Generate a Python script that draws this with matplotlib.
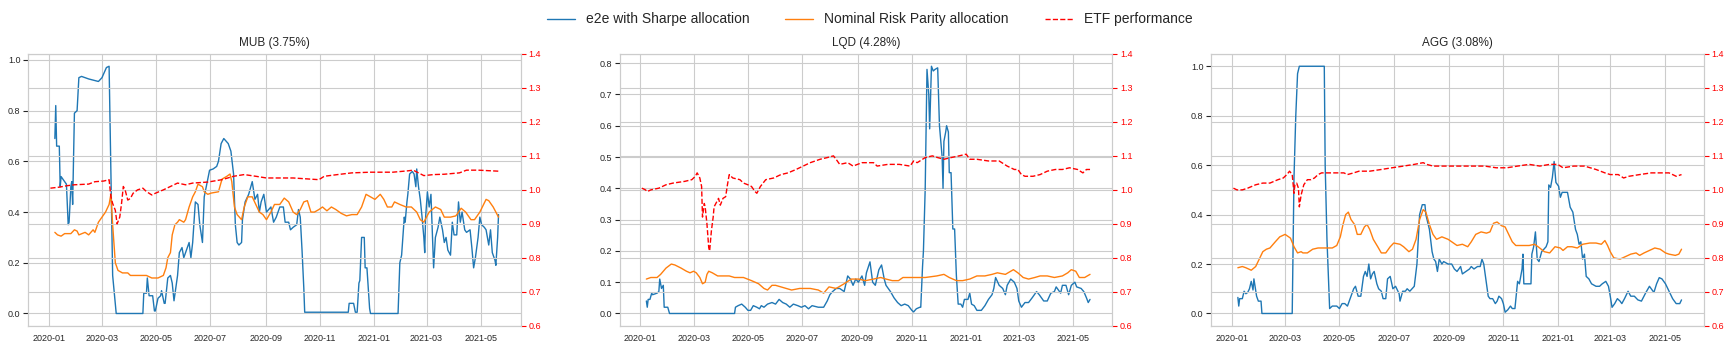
import matplotlib
matplotlib.use('Agg')
import matplotlib.pyplot as plt
import matplotlib.dates as mdates
import seaborn as sns
import pandas as pd

# (days since 2020-01-01, value)
titles = ['MUB (3.75%)', 'LQD (4.28%)', 'AGG (3.08%)']
legend_labels = ['e2e with Sharpe allocation', 'Nominal Risk Parity allocation', 'ETF performance']

mub_e2e = [(7,0.69),(8,0.82),(9,0.66),(12,0.66),(13,0.50),(14,0.54),(18,0.52),(20,0.51),(22,0.35),(23,0.36),
           (25,0.50),(26,0.52),(27,0.43),(29,0.79),(32,0.80),(34,0.93),(37,0.935),(45,0.925),(56,0.915),(60,0.93),
           (65,0.97),(68,0.975),(70,0.55),(72,0.15),(76,0.0),(106,0.0),(107,0.08),(110,0.08),(111,0.14),(113,0.07),
           (117,0.07),(119,0.01),(120,0.01),(123,0.06),(126,0.07),(127,0.09),(130,0.04),(131,0.04),(134,0.14),(137,0.15),
           (139,0.12),(141,0.05),(145,0.15),(147,0.24),(150,0.26),(152,0.22),(154,0.24),(156,0.26),(158,0.28),(160,0.22),
           (162,0.28),(165,0.44),(168,0.43),(170,0.35),(173,0.28),(175,0.46),(179,0.53),(181,0.565),(185,0.57),(189,0.58),
           (191,0.60),(194,0.67),(197,0.69),(202,0.67),(205,0.64),(208,0.55),(210,0.35),(212,0.28),(214,0.27),(217,0.28),
           (218,0.37),(221,0.44),(225,0.47),(229,0.52),(232,0.45),(235,0.47),(237,0.40),(239,0.44),(242,0.47),(245,0.40),
           (250,0.42),(253,0.36),(256,0.38),(260,0.42),(264,0.42),(266,0.36),(270,0.36),(272,0.33),(275,0.34),(279,0.35),
           (281,0.41),(283,0.38),(285,0.25),(287,0.10),(288,0.005),(337,0.005),(338,0.04),(343,0.04),(345,0.005),(347,0.005),
           (349,0.12),(350,0.13),(352,0.30),(355,0.30),(356,0.18),(358,0.18),(361,0.02),(362,0.0),(393,0.0),(395,0.20),
           (397,0.23),(399,0.33),(400,0.38),(401,0.36),(403,0.44),(404,0.47),(406,0.55),(409,0.56),(411,0.55),(413,0.50),
           (414,0.57),(416,0.50),(418,0.45),(420,0.38),(422,0.30),(423,0.24),(424,0.38),(426,0.48),(428,0.42),(430,0.47),
           (433,0.18),(435,0.30),(438,0.34),(440,0.38),(443,0.33),(445,0.28),(447,0.30),(449,0.25),(452,0.23),(454,0.36),
           (456,0.31),(459,0.31),(461,0.44),(463,0.36),(465,0.40),(468,0.33),(470,0.32),(474,0.33),(476,0.26),(478,0.18),
           (480,0.22),(483,0.30),(485,0.38),(487,0.35),(490,0.34),(492,0.33),(495,0.27),(497,0.33),(499,0.24),(502,0.21),
           (503,0.19),(505,0.30),(506,0.39)]
mub_rp = [(7,0.32),(10,0.31),(14,0.305),(18,0.315),(25,0.315),(29,0.33),(32,0.325),(34,0.31),(41,0.32),(45,0.31),
          (50,0.33),(52,0.32),(56,0.36),(60,0.38),(64,0.40),(68,0.43),(70,0.47),(72,0.35),(75,0.20),(78,0.17),
          (83,0.16),(89,0.16),(92,0.15),(104,0.15),(110,0.15),(116,0.14),(123,0.14),(129,0.15),(132,0.18),(134,0.22),
          (137,0.24),(139,0.31),(142,0.35),(145,0.36),(147,0.37),(152,0.36),(154,0.37),(158,0.42),(162,0.46),(165,0.48),
          (168,0.51),(173,0.50),(175,0.48),(179,0.47),(183,0.475),(191,0.48),(195,0.53),(200,0.54),(204,0.55),(206,0.52),
          (209,0.42),(212,0.39),(217,0.37),(220,0.42),(224,0.46),(229,0.46),(233,0.43),(237,0.40),(241,0.39),(245,0.37),
          (250,0.40),(254,0.43),(260,0.43),(265,0.455),(270,0.44),(275,0.40),(279,0.39),(283,0.41),(287,0.44),(291,0.445),
          (295,0.40),(299,0.40),(304,0.41),(308,0.42),(313,0.405),(318,0.42),(323,0.41),(329,0.395),(335,0.385),(341,0.39),
          (347,0.39),(352,0.42),(357,0.47),(362,0.46),(367,0.45),(373,0.47),(377,0.45),(381,0.42),(386,0.42),(389,0.44),
          (395,0.43),(402,0.42),(408,0.42),(414,0.40),(418,0.37),(422,0.36),(428,0.40),(435,0.42),(441,0.41),(445,0.38),
          (452,0.38),(458,0.385),(464,0.415),(469,0.40),(475,0.37),(479,0.37),(485,0.40),(492,0.45),(495,0.445),(500,0.42),
          (506,0.38)]
mub_etf = [(2,1.005),(12,1.008),(20,1.012),(29,1.015),(45,1.017),(52,1.024),(62,1.026),(68,1.03),(70,0.98),(72,0.96),
           (75,0.94),(77,0.90),(80,0.92),(82,0.96),(84,1.01),(86,1.00),(89,0.97),(92,0.975),(95,0.99),(100,1.00),
           (106,1.005),(110,0.995),(116,0.985),(120,0.99),(129,1.0),(137,1.01),(145,1.02),(154,1.015),(162,1.02),(179,1.023),
           (195,1.03),(208,1.04),(220,1.045),(233,1.04),(245,1.035),(275,1.035),(304,1.03),(310,1.04),(325,1.045),(341,1.05),
           (362,1.052),(387,1.052),(404,1.056),(410,1.058),(416,1.05),(422,1.042),(433,1.045),(445,1.046),(462,1.05),(470,1.058),
           (483,1.058),(506,1.055)]

lqd_e2e = [(7,0.04),(8,0.02),(9,0.045),(11,0.045),(13,0.065),(14,0.06),(19,0.065),(21,0.07),(22,0.11),(24,0.08),
           (26,0.09),(27,0.02),(31,0.02),(33,0.0),(106,0.0),(107,0.02),(110,0.025),(114,0.03),(118,0.02),(121,0.01),
           (124,0.01),(127,0.025),(131,0.02),(134,0.015),(136,0.025),(139,0.02),(143,0.03),(148,0.035),(152,0.03),(156,0.045),
           (160,0.035),(164,0.03),(168,0.02),(172,0.03),(177,0.025),(181,0.02),(185,0.025),(189,0.015),(193,0.025),(200,0.02),
           (206,0.02),(210,0.04),(213,0.06),(216,0.07),(220,0.08),(224,0.08),(229,0.07),(233,0.12),(236,0.11),(239,0.09),
           (242,0.11),(245,0.10),(249,0.12),(252,0.09),(254,0.13),(258,0.165),(261,0.10),(264,0.09),(268,0.14),(271,0.155),
           (274,0.11),(276,0.09),(281,0.07),(285,0.05),(289,0.035),(293,0.025),(297,0.03),(301,0.025),(305,0.01),(307,0.005),
           (310,0.015),(314,0.02),(315,0.02),(317,0.15),(318,0.20),(320,0.40),(321,0.60),(322,0.78),(324,0.70),(325,0.59),
           (327,0.79),(329,0.775),(331,0.78),(334,0.785),(336,0.60),(339,0.50),(340,0.40),(341,0.55),(343,0.58),(344,0.60),
           (346,0.58),(347,0.45),(349,0.45),(351,0.27),(353,0.27),(355,0.12),(357,0.03),(360,0.03),(362,0.02),(364,0.045),
           (368,0.045),(370,0.065),(372,0.03),(375,0.025),(378,0.01),(383,0.01),(387,0.025),(391,0.045),(395,0.06),(397,0.08),
           (399,0.115),(403,0.09),(407,0.08),(410,0.06),(412,0.09),(416,0.11),(420,0.10),(423,0.08),(425,0.04),(428,0.02),
           (432,0.035),(436,0.035),(440,0.05),(445,0.07),(448,0.06),(453,0.04),(457,0.04),(461,0.065),(465,0.07),(467,0.085),
           (472,0.065),(474,0.09),(478,0.09),(481,0.06),(484,0.09),(488,0.10),(490,0.085),(495,0.08),(498,0.07),(501,0.05),
           (503,0.035),(505,0.045)]
lqd_rp = [(7,0.11),(12,0.115),(19,0.115),(23,0.125),(29,0.145),(35,0.158),(39,0.155),(46,0.145),(52,0.135),(56,0.13),
          (60,0.135),(63,0.13),(67,0.115),(70,0.095),(73,0.10),(75,0.125),(77,0.135),(81,0.13),(87,0.12),(100,0.12),
          (106,0.115),(116,0.115),(125,0.105),(133,0.095),(139,0.08),(143,0.075),(148,0.09),(152,0.09),(158,0.085),(164,0.08),
          (170,0.075),(179,0.08),(191,0.08),(200,0.075),(206,0.065),(212,0.085),(220,0.08),(229,0.095),(237,0.11),(245,0.11),
          (253,0.105),(262,0.11),(270,0.115),(276,0.11),(283,0.105),(290,0.105),(295,0.115),(308,0.115),(320,0.115),(333,0.12),
          (341,0.125),(347,0.115),(355,0.105),(362,0.105),(370,0.11),(378,0.12),(387,0.12),(395,0.125),(401,0.13),(410,0.125),
          (419,0.14),(424,0.13),(430,0.115),(436,0.11),(443,0.115),(449,0.12),(457,0.12),(465,0.115),(474,0.12),(480,0.13),
          (484,0.14),(489,0.135),(493,0.115),(499,0.115),(505,0.125)]
lqd_etf = [(2,1.005),(6,1.0),(8,0.995),(12,1.0),(21,1.005),(29,1.015),(37,1.02),(50,1.025),(58,1.03),(62,1.04),
           (64,1.05),(67,1.035),(69,1.01),(70,0.92),(72,0.96),(73,0.95),(75,0.90),(77,0.83),(78,0.82),(80,0.88),
           (82,0.92),(83,0.95),(85,0.96),(88,0.975),(90,0.955),(93,0.975),(96,0.98),(98,1.015),(100,1.045),(104,1.035),
           (112,1.03),(116,1.02),(121,1.015),(125,1.01),(129,0.995),(131,0.99),(135,1.01),(141,1.03),(150,1.035),(158,1.045),
           (166,1.05),(175,1.06),(183,1.07),(191,1.08),(202,1.09),(210,1.095),(217,1.10),(220,1.09),(224,1.075),(233,1.08),
           (239,1.07),(249,1.08),(262,1.08),(266,1.07),(278,1.075),(291,1.075),(303,1.07),(307,1.085),(311,1.08),(320,1.095),
           (328,1.10),(334,1.095),(341,1.09),(349,1.095),(358,1.10),(366,1.105),(370,1.09),(378,1.09),(391,1.085),(403,1.085),
           (412,1.07),(420,1.06),(424,1.06),(428,1.045),(432,1.04),(441,1.04),(449,1.045),(457,1.055),(466,1.06),(474,1.06),
           (482,1.065),(491,1.06),(497,1.05),(501,1.06),(505,1.06)]

agg_e2e = [(7,0.065),(8,0.03),(9,0.06),(12,0.06),(14,0.09),(16,0.08),(18,0.085),(20,0.10),(22,0.13),(24,0.095),
           (25,0.14),(28,0.07),(30,0.05),(33,0.05),(34,0.0),(68,0.0),(70,0.55),(72,0.80),(74,0.97),(76,1.0),
           (104,1.0),(105,0.60),(107,0.30),(110,0.02),(113,0.03),(118,0.03),(121,0.02),(124,0.04),(127,0.04),(130,0.03),
           (134,0.07),(137,0.10),(139,0.11),(142,0.07),(145,0.07),(148,0.15),(150,0.17),(152,0.15),(154,0.20),(156,0.14),
           (158,0.16),(160,0.17),(163,0.12),(165,0.10),(168,0.09),(170,0.06),(173,0.06),(175,0.14),(178,0.15),(181,0.10),
           (184,0.11),(188,0.08),(189,0.05),(192,0.09),(195,0.09),(197,0.10),(200,0.09),(205,0.11),(208,0.20),(211,0.40),
           (214,0.44),(217,0.44),(218,0.40),(222,0.34),(225,0.25),(227,0.22),(229,0.21),(231,0.17),(233,0.22),(236,0.20),
           (238,0.21),(243,0.20),(247,0.20),(250,0.18),(253,0.17),(257,0.19),(259,0.16),(263,0.17),(267,0.18),(269,0.19),
           (272,0.18),(276,0.19),(279,0.19),(281,0.22),(283,0.20),(286,0.12),(288,0.07),(290,0.06),(293,0.06),(296,0.04),
           (298,0.05),(300,0.07),(303,0.06),(305,0.04),(307,0.005),(310,0.015),(313,0.03),(315,0.02),(318,0.02),(321,0.13),
           (323,0.12),(326,0.18),(327,0.24),(328,0.12),(332,0.12),(336,0.12),(337,0.24),(339,0.27),(341,0.33),(343,0.22),
           (345,0.21),(348,0.25),(353,0.27),(355,0.29),(356,0.52),(358,0.51),(360,0.55),(362,0.615),(364,0.53),(367,0.515),
           (369,0.47),(371,0.49),(373,0.49),(377,0.49),(380,0.43),(383,0.41),(386,0.34),(388,0.32),(390,0.28),(392,0.29),
           (394,0.22),(396,0.24),(398,0.15),(401,0.14),(404,0.12),(409,0.11),(413,0.11),(416,0.12),(420,0.13),(423,0.11),
           (425,0.07),(427,0.025),(430,0.04),(433,0.06),(436,0.05),(438,0.04),(441,0.06),(445,0.09),(448,0.07),(452,0.07),
           (456,0.055),(460,0.05),(465,0.085),(469,0.11),(472,0.095),(474,0.085),(477,0.12),(480,0.145),(483,0.14),(487,0.12),
           (491,0.09),(495,0.06),(499,0.04),(503,0.04),(505,0.055)]
agg_rp = [(7,0.185),(12,0.19),(16,0.185),(22,0.175),(27,0.19),(31,0.22),(35,0.25),(39,0.26),(43,0.265),(49,0.29),
          (54,0.31),(60,0.32),(66,0.305),(70,0.27),(74,0.245),(78,0.25),(80,0.245),(85,0.245),(91,0.26),(97,0.265),
          (105,0.265),(113,0.265),(118,0.275),(122,0.31),(125,0.36),(128,0.40),(131,0.41),(134,0.38),(138,0.36),(141,0.32),
          (145,0.32),(149,0.35),(152,0.36),(155,0.34),(159,0.30),(164,0.27),(168,0.245),(173,0.245),(178,0.27),(182,0.285),
          (189,0.28),(193,0.27),(199,0.25),(203,0.26),(207,0.30),(211,0.38),(215,0.42),(218,0.41),(222,0.36),(226,0.32),
          (230,0.30),(236,0.31),(243,0.30),(249,0.285),(253,0.275),(259,0.28),(265,0.27),(269,0.29),(274,0.32),(280,0.33),
          (286,0.325),(290,0.33),(294,0.365),(298,0.37),(303,0.355),(307,0.35),(311,0.32),(315,0.29),(319,0.275),(326,0.275),
          (334,0.275),(340,0.28),(344,0.27),(351,0.25),(357,0.245),(363,0.27),(369,0.265),(372,0.255),(377,0.27),(382,0.27),
          (388,0.265),(394,0.28),(402,0.285),(409,0.285),(415,0.28),(419,0.295),(422,0.275),(425,0.25),(429,0.225),(436,0.22),
          (442,0.23),(448,0.24),(454,0.245),(458,0.235),(463,0.245),(469,0.255),(475,0.265),(481,0.26),(487,0.245),(491,0.24),
          (498,0.235),(502,0.24),(505,0.26)]
agg_etf = [(2,1.005),(6,1.0),(12,1.0),(18,1.005),(27,1.015),(35,1.02),(43,1.02),(52,1.03),(58,1.035),(62,1.045),
           (65,1.055),(68,1.045),(70,0.99),(71,1.015),(73,1.02),(75,1.005),(76,0.95),(78,0.985),(81,1.015),(85,1.03),
           (89,1.03),(93,1.035),(97,1.045),(101,1.05),(110,1.05),(118,1.05),(126,1.05),(130,1.045),(137,1.05),(143,1.055),
           (155,1.055),(168,1.06),(180,1.065),(193,1.07),(205,1.075),(215,1.08),(219,1.075),(226,1.07),(238,1.07),(255,1.07),
           (272,1.07),(284,1.07),(297,1.065),(309,1.065),(321,1.07),(334,1.075),(346,1.07),(357,1.075),(366,1.075),(372,1.065),
           (384,1.07),(396,1.07),(409,1.06),(419,1.05),(425,1.045),(434,1.045),(440,1.035),(446,1.04),(458,1.045),(471,1.05),
           (483,1.05),(491,1.05),(499,1.04),(505,1.045)]

panels = [(mub_e2e, mub_rp, mub_etf), (lqd_e2e, lqd_rp, lqd_etf), (agg_e2e, agg_rp, agg_etf)]


def to_series(pairs):
    days, vals = zip(*pairs)
    idx = pd.Timestamp('2020-01-01') + pd.to_timedelta(list(days), unit='D')
    return pd.Series(vals, index=idx)


sns.set_style('whitegrid')
plt.rcParams['font.family'] = ['Liberation Sans', 'DejaVu Sans']

fig, axes = plt.subplots(1, 3, figsize=(17.29, 3.5), dpi=100)
fig.subplots_adjust(left=0.0162, right=0.9855, top=0.846, bottom=0.069, wspace=0.2)

for ax, title, (e2e, rp, etf) in zip(axes, titles, panels):
    s1 = to_series(e2e)
    s2 = to_series(rp)
    s3 = to_series(etf)
    l1, = ax.plot(s1.index, s1.values, color='#1f77b4', lw=1.0)
    l2, = ax.plot(s2.index, s2.values, color='#ff7f0e', lw=1.0)
    ax2 = ax.twinx()
    l3, = ax2.plot(s3.index, s3.values, color='red', ls='--', lw=1.0)
    ax2.set_ylim(0.6, 1.4)
    ax2.tick_params(axis='y', colors='red', labelsize=6.5, length=3.5, width=0.8, pad=2)
    ax.set_title(title, fontsize=8.5, color='.15')
    ax.xaxis.set_major_locator(mdates.MonthLocator(bymonth=[1, 3, 5, 7, 9, 11]))
    ax.xaxis.set_major_formatter(mdates.DateFormatter('%Y-%m'))
    ax.tick_params(axis='x', labelsize=6.5, length=0, pad=6, labelcolor='.15')
    ax.tick_params(axis='y', left=True, labelsize=6.5, length=3.5, width=0.8, color='.15', labelcolor='.15', pad=2)
    for sp in list(ax.spines.values()) + list(ax2.spines.values()):
        sp.set_color('.8')

fig.legend([l1, l2, l3], legend_labels, loc='upper center', bbox_to_anchor=(0.503, 1.0),
           ncol=3, frameon=False, fontsize=10, columnspacing=2.6)

fig.savefig('out.png', dpi=100)
